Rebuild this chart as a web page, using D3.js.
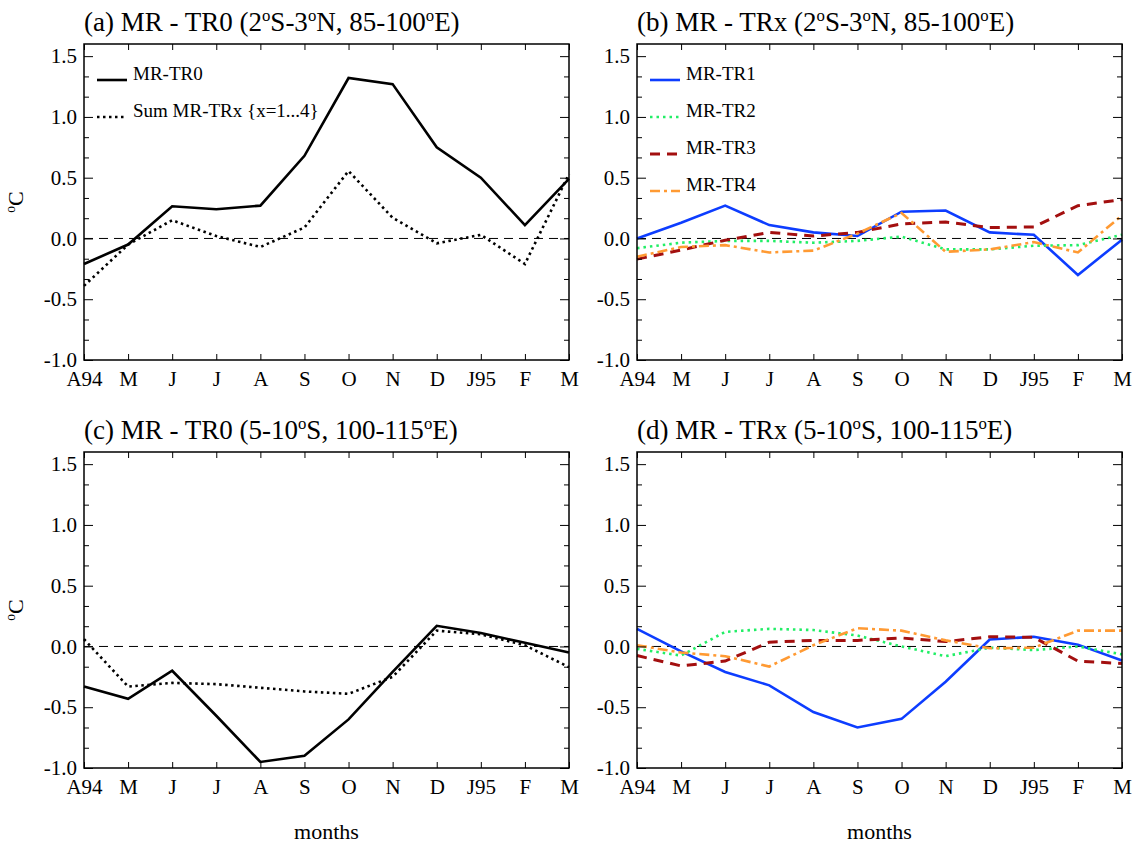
<!DOCTYPE html>
<meta charset="UTF-8">
<style>
body { margin: 0; background: #fff; }
svg text { font-family: "Liberation Serif", "Times New Roman", serif; }
.frame { fill: none; stroke: #000; stroke-width: 1.5px; }
.zero { stroke: #000; stroke-width: 1px; stroke-dasharray: 9,6; }
.axis path { display: none; }
.axis line { stroke: #000; stroke-width: 1px; }
</style>
<body>
<script src="https://d3js.org/d3.v7.min.js"></script>
<script>

var FONT = "'Liberation Serif', 'Times New Roman', serif";

// month labels along x
var months = ["A94", "M", "J", "J", "A", "S", "O", "N", "D", "J95", "F", "M"];
var yMajor = [-1.0, -0.5, 0.0, 0.5, 1.0, 1.5];

// (a) 2S-3N, 85-100E
var aTR0 = [-0.21, -0.05, 0.265, 0.24, 0.27, 0.68, 1.32, 1.27, 0.75, 0.50, 0.11, 0.49];
var aSum = [-0.39, -0.05, 0.15, 0.02, -0.07, 0.09, 0.555, 0.17, -0.04, 0.03, -0.21, 0.53];

// (b) 2S-3N, 85-100E
var bTR1 = [0.0, 0.13, 0.27, 0.11, 0.05, 0.02, 0.22, 0.23, 0.05, 0.03, -0.30, -0.01];
var bTR2 = [-0.08, -0.035, -0.02, -0.02, -0.035, -0.02, 0.015, -0.09, -0.09, -0.06, -0.055, 0.03];
var bTR3 = [-0.17, -0.095, -0.015, 0.05, 0.02, 0.05, 0.12, 0.135, 0.09, 0.095, 0.27, 0.32];
var bTR4 = [-0.15, -0.07, -0.055, -0.115, -0.10, 0.04, 0.21, -0.11, -0.09, -0.03, -0.115, 0.19];

// (c) 5-10S, 100-115E
var cTR0 = [-0.33, -0.43, -0.20, -0.57, -0.95, -0.90, -0.60, -0.21, 0.17, 0.11, 0.03, -0.05];
var cSum = [0.06, -0.33, -0.30, -0.31, -0.34, -0.37, -0.39, -0.25, 0.13, 0.10, 0.01, -0.17];

// (d) 5-10S, 100-115E
var dTR1 = [0.145, -0.04, -0.21, -0.32, -0.54, -0.667, -0.596, -0.29, 0.057, 0.08, 0.015, -0.115];
var dTR2 = [-0.02, -0.075, 0.12, 0.145, 0.135, 0.09, 0.0, -0.08, -0.01, -0.03, 0.0, -0.065];
var dTR3 = [-0.075, -0.16, -0.12, 0.035, 0.05, 0.05, 0.07, 0.04, 0.08, 0.075, -0.12, -0.14];
var dTR4 = [0.01, -0.05, -0.08, -0.165, 0.01, 0.15, 0.13, 0.05, -0.015, -0.01, 0.13, 0.13];

// line styles
var styles = {
  tr0: {color: "#000", width: 2.6, dash: null},
  sum: {color: "#000", width: 2.6, dash: "2.5,3.5"},
  tr1: {color: "#0d3dff", width: 2.6, dash: null},
  tr2: {color: "#22ee66", width: 2.6, dash: "2.5,4"},
  tr3: {color: "#a30f0f", width: 3, dash: "10,7"},
  tr4: {color: "#ff9a33", width: 2.6, dash: "10,4,3,4"}
};

var width = 485, height = 316;

var panels = [
  {x0: 84, y0: 44, title: "(a) MR - TR0 (2^oS-3^oN, 85-100^oE)", ylabel: true, xlabel: false,
   series: [{v: aTR0, s: "tr0", name: "MR-TR0"}, {v: aSum, s: "sum", name: "Sum MR-TRx {x=1...4}"}], legend: true},
  {x0: 637, y0: 44, title: "(b) MR - TRx (2^oS-3^oN, 85-100^oE)", ylabel: false, xlabel: false,
   series: [{v: bTR1, s: "tr1", name: "MR-TR1"}, {v: bTR2, s: "tr2", name: "MR-TR2"},
            {v: bTR3, s: "tr3", name: "MR-TR3"}, {v: bTR4, s: "tr4", name: "MR-TR4"}], legend: true},
  {x0: 84, y0: 452, title: "(c) MR - TR0 (5-10^oS, 100-115^oE)", ylabel: true, xlabel: true,
   series: [{v: cTR0, s: "tr0"}, {v: cSum, s: "sum"}], legend: false},
  {x0: 637, y0: 452, title: "(d) MR - TRx (5-10^oS, 100-115^oE)", ylabel: false, xlabel: true,
   series: [{v: dTR1, s: "tr1"}, {v: dTR2, s: "tr2"}, {v: dTR3, s: "tr3"}, {v: dTR4, s: "tr4"}], legend: false}
];

var svg = d3.select("body").append("svg")
    .attr("width", 1134)
    .attr("height", 844)
    .attr("font-family", FONT);

var x = d3.scaleLinear().domain([0, months.length - 1]).range([0, width]);
var y = d3.scaleLinear().domain([-1.0, 1.6]).range([height, 0]);

// minor y ticks every 0.5/3
var yMinor = d3.range(0, 16).map(function(i) { return -1.0 + i / 6; })
    .filter(function(v) { return v <= 1.6 && Math.abs(v * 2 - Math.round(v * 2)) > 1e-6; });

// write text with ^o superscripts
function supText(sel, str, size) {
  var parts = str.split("^o");
  parts.forEach(function(p, i) {
    if (i > 0) {
      sel.append("tspan").attr("font-size", size * 0.62).attr("dy", -size * 0.38).text("o");
      sel.append("tspan").attr("dy", size * 0.38).text(p);
    } else {
      sel.append("tspan").text(p);
    }
  });
}

function styleAxis(a) {
  a.attr("font-family", FONT).attr("font-size", 21);
  a.selectAll("text").style("font-family", FONT).attr("fill", "#000");
}

panels.forEach(function(p) {
  var g = svg.append("g").attr("transform", "translate(" + p.x0 + "," + p.y0 + ")");

  // title
  var t = g.append("text").attr("x", 0).attr("y", -13)
      .attr("font-size", 27).style("font-family", FONT);
  supText(t, p.title, 27);

  // zero line
  g.append("line").attr("class", "zero")
      .attr("x1", 0).attr("x2", width)
      .attr("y1", y(0)).attr("y2", y(0));

  // data lines
  var line = d3.line().x(function(d, i) { return x(i); }).y(function(d) { return y(d); });
  p.series.forEach(function(s) {
    var st = styles[s.s];
    g.append("path")
        .datum(s.v)
        .attr("d", line)
        .attr("fill", "none")
        .attr("stroke", st.color)
        .attr("stroke-width", st.width)
        .attr("stroke-dasharray", st.dash);
  });

  // axes, ticks inward on all sides
  g.append("g").attr("class", "axis")
      .call(d3.axisLeft(y).tickValues(yMajor).tickSize(-9).tickPadding(7)
        .tickFormat(function(d) { return d.toFixed(1); }))
      .call(styleAxis);
  g.append("g").attr("class", "axis")
      .call(d3.axisLeft(y).tickValues(yMinor).tickSize(-5).tickFormat(""));
  g.append("g").attr("class", "axis").attr("transform", "translate(" + width + ",0)")
      .call(d3.axisRight(y).tickValues(yMajor).tickSize(-9).tickFormat(""));
  g.append("g").attr("class", "axis").attr("transform", "translate(" + width + ",0)")
      .call(d3.axisRight(y).tickValues(yMinor).tickSize(-5).tickFormat(""));
  g.append("g").attr("class", "axis").attr("transform", "translate(0," + height + ")")
      .call(d3.axisBottom(x).tickValues(d3.range(12)).tickSize(-6).tickPadding(11)
        .tickFormat(function(i) { return months[i]; }))
      .call(styleAxis);
  g.append("g").attr("class", "axis")
      .call(d3.axisTop(x).tickValues(d3.range(12)).tickSize(-6).tickFormat(""));

  g.append("rect").attr("class", "frame").attr("width", width).attr("height", height);

  if (p.ylabel) {
    var yl = g.append("text")
        .attr("transform", "translate(" + (-61) + "," + (height / 2) + ") rotate(-90)")
        .attr("text-anchor", "middle")
        .attr("font-size", 22).style("font-family", FONT);
    supText(yl, "^oC", 22);
  }
  if (p.xlabel) {
    g.append("text").attr("x", width / 2).attr("y", height + 71)
        .attr("text-anchor", "middle").attr("font-size", 22).style("font-family", FONT)
        .text("months");
  }

  if (p.legend) {
    p.series.forEach(function(s, i) {
      var st = styles[s.s];
      var ly = 36 + i * 37;
      g.append("line")
          .attr("x1", 13).attr("x2", 43).attr("y1", ly).attr("y2", ly)
          .attr("stroke", st.color).attr("stroke-width", st.width)
          .attr("stroke-dasharray", st.dash);
      g.append("text").attr("x", 49).attr("y", ly).attr("font-size", 19)
          .style("font-family", FONT).text(s.name);
    });
  }
});

</script>
</body>
